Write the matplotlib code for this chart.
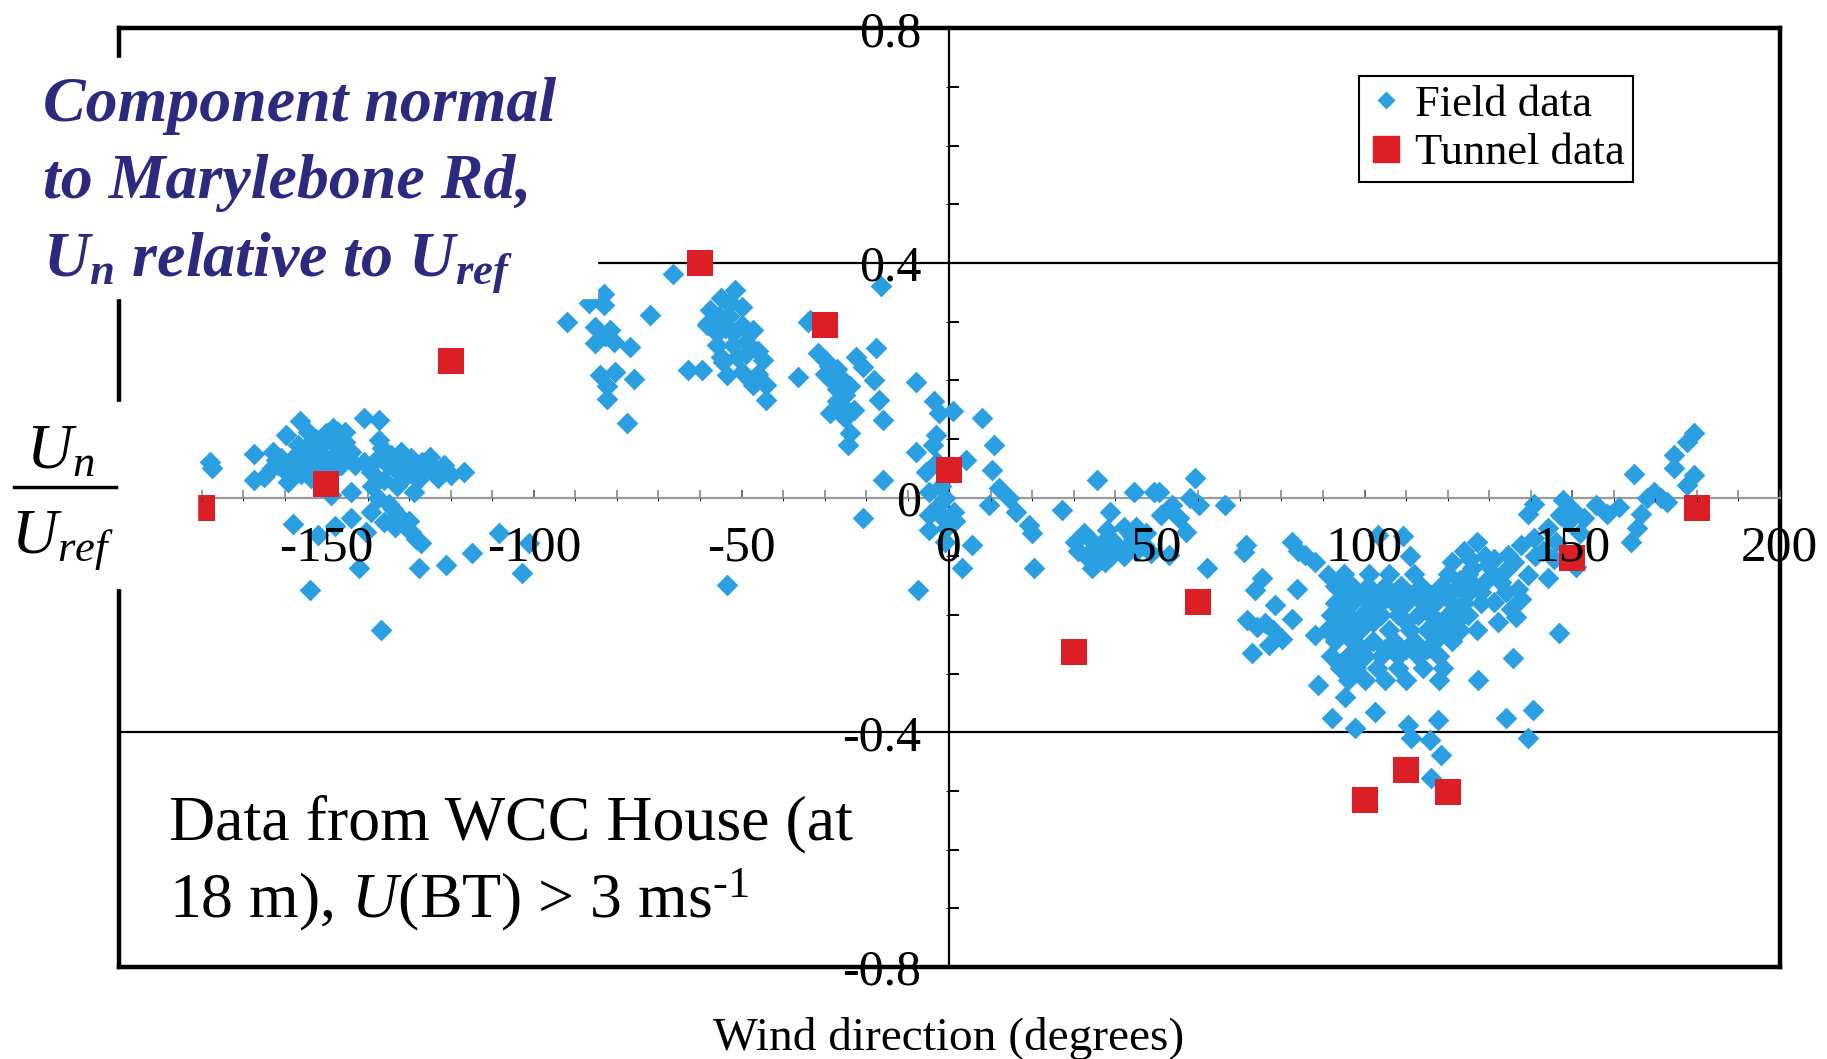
import numpy as np
import matplotlib
matplotlib.use('Agg')
import matplotlib.pyplot as plt
from matplotlib.lines import Line2D
from matplotlib.patches import Rectangle

plt.rcParams['font.family'] = ['Liberation Serif', 'DejaVu Serif']
plt.rcParams['mathtext.fontset'] = 'custom'
plt.rcParams['mathtext.rm'] = 'Liberation Serif'
plt.rcParams['mathtext.it'] = 'Liberation Serif:italic'
plt.rcParams['mathtext.bf'] = 'Liberation Serif:bold:italic'

# Wind tunnel measurements (direction in degrees, Un/Uref)
tunnel_dir = [-180, -150, -120, -60, -30, 0, 30, 60, 100, 110, 120, 150, 180]
tunnel_val = [-0.018, 0.024, 0.233, 0.40, 0.295, 0.048, -0.263, -0.178,
              -0.516, -0.464, -0.502, -0.103, -0.018]

# Field data
field_west = [
    (-178, 0.06), (-177.5, 0.05), (-167.5, 0.074), (-167.5, 0.030), (-165, 0.036),
    (-162.8, 0.078), (-159.6, 0.107), (-156.4, 0.13), (-154.4, 0.112),
    (-161.6, 0.056), (-158.4, 0.044), (-155.2, 0.061), (-152, 0.078), (-149.6, 0.101),
    (-147.2, 0.112), (-145.6, 0.095), (-148.8, 0.067), (-153.6, 0.033), (-159.2, 0.027),
    (-156.8, 0.090), (-144, 0.078), (-146.4, 0.056), (-150.4, 0.050), (-160.8, 0.067),
    (-163, 0.05), (-157, 0.075), (-151, 0.09), (-154, 0.05), (-149, 0.04), (-162, 0.065),
    (-143, 0.055), (-148.4, 0.118), (-145.6, 0.112), (-140.8, 0.135), (-137.2, 0.132),
    (-137.4, 0.098), (-144, 0.01), (-148.8, 0.005),
    (-158, 0.06), (-155, 0.085), (-152.5, 0.1), (-150, 0.11), (-153, 0.065),
    (-147, 0.085), (-145, 0.07), (-160, 0.045), (-156, 0.04), (-151.5, 0.06),
    (-139.2, 0.044), (-135.2, 0.056), (-132, 0.078), (-131.2, 0.033), (-128.8, 0.01),
    (-126.4, 0.044), (-123.2, 0.033), (-121.6, 0.056), (-120, 0.039), (-116.8, 0.044),
    (-129.6, 0.067), (-134.4, 0.072), (-133, 0.02), (-136, 0.03), (-138, 0.065),
    (-130, 0.05), (-127, 0.06), (-124, 0.05), (-141, 0.06), (-139, 0.02),
    (-133, 0.045), (-136.5, 0.085), (-131, 0.06), (-128, 0.03), (-125, 0.07),
    (-158, -0.044), (-152, -0.064), (-148, -0.049), (-144, -0.035), (-140.4, -0.058),
    (-142, -0.12), (-139.2, -0.024), (-136, -0.041), (-137.6, -0.001), (-132.8, -0.03),
    (-131.2, -0.047), (-129.6, -0.058), (-127.2, -0.078), (-127.6, -0.12), (-121.2, -0.115),
    (-114.8, -0.095), (-154, -0.157), (-136.8, -0.226), (-134, -0.02), (-130, -0.04),
    (-135, -0.01), (-133.5, -0.05), (-128.5, -0.07),
    (-108.3, -0.061), (-102.8, -0.129), (-101.2, -0.078),
]
field_mid = [
    (-92, 0.30), (-86.8, 0.331), (-83.2, 0.348), (-83.2, 0.328), (-85.2, 0.291),
    (-85.2, 0.263), (-81.6, 0.286), (-80.8, 0.266), (-76.8, 0.257), (-72, 0.311),
    (-84, 0.209), (-80.4, 0.215), (-76, 0.203), (-82.4, 0.169), (-77.6, 0.127),
    (-66.4, 0.382), (-84, 0.34), (-82.5, 0.19), (-83, 0.275),
    (-62.8, 0.218), (-59.6, 0.218), (-57.6, 0.32), (-51.6, 0.354), (-52.8, 0.334),
    (-50, 0.325), (-55.5, 0.31), (-53, 0.31), (-58, 0.297), (-56, 0.28), (-54, 0.29),
    (-50, 0.295), (-47.2, 0.286), (-56, 0.26), (-52, 0.26), (-49, 0.265), (-55, 0.24),
    (-51, 0.24), (-46, 0.25), (-44.8, 0.235), (-54.4, 0.232), (-53.6, 0.209), (-50, 0.215),
    (-48, 0.2), (-47.2, 0.192), (-44, 0.192), (-44, 0.166), (-58.4, 0.294), (-55, 0.34),
    (-53, 0.33), (-52, 0.28), (-49, 0.245), (-46, 0.21), (-53.6, -0.149),
    (-36.4, 0.206), (-34, 0.3), (-31.6, 0.246), (-30, 0.235), (-29, 0.225), (-27, 0.22),
    (-25.5, 0.2), (-24, 0.19), (-30, 0.21), (-28.5, 0.2), (-27, 0.185), (-25, 0.175),
    (-28.8, 0.144), (-27, 0.165), (-24, 0.11), (-24.4, 0.09), (-22.4, 0.24), (-20.8, 0.223),
    (-17.6, 0.255), (-18, 0.2), (-16.8, 0.167), (-16, 0.132), (-16, 0.03), (-20.8, -0.035),
    (-16.4, 0.36), (-33.6, 0.303), (-26, 0.16), (-23, 0.15), (-25, 0.135),
    (-8, 0.198), (-3.6, 0.164), (-2.4, 0.144), (0.8, 0.147), (8, 0.135), (10.8, 0.09),
    (10.4, 0.047), (-8, 0.078), (-3.2, 0.107), (-4, 0.09), (-5.6, 0.044), (-3, 0.06),
    (4, 0.064), (-4.8, 0.01), (-2.4, -0.0125), (1.2, -0.024), (-4.8, -0.03), (-4.8, -0.055),
    (-0.8, -0.052), (-1, -0.075), (5.6, -0.081), (3.2, -0.12), (-7.6, -0.157), (12, 0.016),
    (9.6, -0.0125), (14.4, -0.001), (16, -0.024), (19.2, -0.047), (20, -0.06), (20.4, -0.12),
    (-2, 0.02), (-1, 0.0), (-1.5, -0.035), (1.5, -0.04),
]
field_east = [
    (27.2, -0.021), (35.6, 0.03), (38.8, -0.024), (44.4, 0.01), (49.2, 0.01),
    (30.4, -0.075), (32.5, -0.06), (35, -0.085), (34.4, -0.12), (37, -0.075), (39, -0.07),
    (41, -0.085), (43, -0.08), (45, -0.09), (47, -0.08), (48.5, -0.095), (42, -0.05),
    (45, -0.05), (47.5, -0.06), (33, -0.1), (36, -0.1), (39, -0.1), (42, -0.1), (31, -0.09),
    (38, -0.055), (34, -0.07), (40, -0.09), (44, -0.065), (37.5, -0.11),
    (59.3, 0.033), (53.7, -0.0125), (55.3, -0.035), (56.9, -0.058), (60.1, -0.0125),
    (66.5, -0.0125), (52.9, -0.098), (62.1, -0.12), (50.5, 0.01), (58, 0.0), (51, -0.03),
    (70.9, -0.092), (82.5, -0.075), (85.7, -0.098), (88.1, -0.109), (75.3, -0.1375),
    (73.7, -0.157), (78.5, -0.183), (83.7, -0.155), (71.7, -0.209), (76.1, -0.214),
    (82.5, -0.206), (72.9, -0.265), (76.9, -0.251), (80.1, -0.24), (88.1, -0.234),
    (71.5, -0.08), (84, -0.09), (74, -0.22), (78, -0.225),
]
field_trough = [
    (103.3, -0.064), (109.3, -0.066), (110.9, -0.1), (91.3, -0.132), (127.3, -0.31),
    (92.1, -0.376), (97.7, -0.393), (102.5, -0.365), (110.5, -0.387), (111.3, -0.41),
    (117.7, -0.379), (115.7, -0.413), (118.5, -0.439), (116.1, -0.478), (88.9, -0.319),
    (95.3, -0.34),
    (95, -0.13), (101, -0.13), (106, -0.13), (112, -0.13), (120, -0.13), (125, -0.13),
    (92.9, -0.15), (96.9, -0.15), (100.9, -0.15), (104.9, -0.15), (108.9, -0.15),
    (113.7, -0.15), (118.5, -0.15), (122.5, -0.15), (126.5, -0.15),
    (95, -0.165), (99, -0.165), (103, -0.165), (107, -0.165), (111, -0.165), (116, -0.165),
    (120, -0.165), (124.5, -0.165),
    (93, -0.18), (97, -0.18), (101, -0.18), (104, -0.18), (107, -0.18), (110, -0.18),
    (114, -0.18), (117, -0.18), (121, -0.18), (124, -0.18), (128, -0.18),
    (94.5, -0.19), (102.5, -0.19), (108.5, -0.19), (115.5, -0.19), (122.5, -0.19),
    (92, -0.20), (96, -0.20), (99.5, -0.20), (104, -0.20), (108, -0.20), (113, -0.20),
    (116, -0.20), (120, -0.20), (125, -0.20),
    (94, -0.212), (98, -0.212), (102, -0.212), (110, -0.212), (118, -0.212), (122, -0.212),
    (91, -0.225), (95, -0.225), (99, -0.225), (106, -0.225), (111, -0.225), (115, -0.225),
    (119, -0.225), (123, -0.225), (127, -0.225),
    (93, -0.245), (97, -0.245), (102, -0.245), (107, -0.245), (112, -0.245), (117, -0.245),
    (121, -0.245), (99.5, -0.258), (105, -0.258), (110, -0.258), (115, -0.258),
    (92, -0.27), (96, -0.27), (100, -0.27), (104, -0.27), (108, -0.27), (113, -0.27),
    (118, -0.27),
    (94, -0.29), (98, -0.29), (103, -0.29), (108, -0.29), (114, -0.29), (119, -0.29),
    (96, -0.31), (100, -0.31), (105, -0.31), (110, -0.31), (118, -0.31),
    (121, -0.11), (124, -0.09), (126, -0.12), (129, -0.1), (127, -0.075), (129.5, -0.14),
    (123, -0.14), (128, -0.16), (125.5, -0.105),
]
field_north = [
    (179.3, 0.11), (177.7, 0.095), (174.5, 0.073), (174.5, 0.05), (179.3, 0.039),
    (177.7, 0.022), (164.9, 0.041), (169.7, 0.01), (172.9, -0.007), (171.5, 0.0),
    (166.5, -0.027), (165.7, -0.052), (164.1, -0.075), (161.3, -0.015), (158.5, -0.027),
    (155.7, -0.0125), (152.9, -0.035), (147.7, -0.004), (147, -0.03), (148.9, -0.041),
    (140.9, -0.01), (139.3, -0.027), (144.1, -0.052), (140.9, -0.069), (137.7, -0.081),
    (134.5, -0.098), (131.3, -0.104), (133.7, -0.127), (129.7, -0.115), (145.7, -0.104),
    (144.1, -0.137), (150.9, -0.118), (139.3, -0.132), (136.9, -0.155), (132.9, -0.144),
    (137.7, -0.172), (131.3, -0.178), (135.3, -0.189), (136.5, -0.203), (132.1, -0.211),
    (146.9, -0.231), (135.7, -0.274), (134.1, -0.376), (140.5, -0.362), (139.3, -0.41),
    (150, -0.02), (152, -0.06), (143, -0.09), (168, 0.0),
    (136, -0.11), (141, -0.1), (146, -0.075), (131, -0.13), (134, -0.16),
]
field = np.array(field_west + field_mid + field_east + field_trough + field_north)
field_dir, field_val = field[:, 0], field[:, 1]

gridline_vals = [-0.4, 0.4]
x_major = [-150, -100, -50, 0, 50, 100, 150, 200]
y_major = [-0.8, -0.4, 0, 0.4, 0.8]

W, H = 1827, 1059
fig = plt.figure(figsize=(W / 100, H / 100), dpi=100)


def fx(px):
    return px / W


def fy(py):
    return 1 - py / H


pos = [fx(118.6), fy(967.1), fx(1779.8) - fx(118.6), fy(28.3) - fy(967.1)]

# heavy outer frame
frame = fig.add_axes(pos, zorder=0)
frame.set_xticks([])
frame.set_yticks([])
for s in frame.spines.values():
    s.set_linewidth(3.2)
    s.set_color('black')

# data axes with the cross-shaped axes through zero
ax = fig.add_axes(pos, zorder=1)
ax.patch.set_visible(False)
ax.set_xlim(-200, 200)
ax.set_ylim(-0.8, 0.8)
ax.spines['top'].set_visible(False)
ax.spines['right'].set_visible(False)
ax.spines['left'].set_position(('data', 0))
ax.spines['bottom'].set_position(('data', 0))
ax.spines['left'].set_linewidth(1.6)
ax.spines['bottom'].set_color('#9a9a9a')
ax.spines['bottom'].set_linewidth(1.6)
ax.set_xticks(x_major)
ax.set_xticks(np.arange(-190, 200, 10), minor=True)
ax.set_yticks(y_major)
ax.set_yticks(np.arange(-0.8, 0.81, 0.1), minor=True)
ax.tick_params(axis='x', which='both', direction='in', length=6, width=1.2,
               color='#8a8a8a', labelbottom=False)
ax.tick_params(axis='x', which='major', color='#555555')
ax.tick_params(axis='y', which='both', direction='in', length=7, width=1.4,
               color='black', labelleft=False)
ax.set_axisbelow(True)
for g in gridline_vals:
    ax.axhline(g, color='black', lw=1.6, zorder=0.5)

ax.scatter(field_dir, field_val, marker='D', s=122, color='#2A9FE2',
           linewidths=0, zorder=3)
ax.scatter(tunnel_dir, tunnel_val, marker='s', s=350, color='#DC1F26',
           linewidths=0, zorder=4)

# tick labels sit on top of the markers
lab = fig.add_axes(pos, zorder=2, sharex=ax, sharey=ax)
lab.patch.set_visible(False)
for k, s in lab.spines.items():
    s.set_visible(False)
lab.spines['left'].set_position(('data', 0))
lab.spines['bottom'].set_position(('data', 0))
lab.set_xticks(x_major)
lab.set_yticks(y_major)
lab.set_xticklabels([f'{v:g}' for v in x_major])
lab.set_yticklabels([f'{v:g}' for v in y_major])
lab.tick_params(axis='x', length=0, pad=20, labelsize=37)
lab.tick_params(axis='y', length=0, pad=20, labelsize=36)

leg_handles = [
    Line2D([], [], ls='none', marker='D', ms=8, color='#2A9FE2', label='Field data'),
    Line2D([], [], ls='none', marker='s', ms=19, color='#DC1F26', label='Tunnel data'),
]
leg = lab.legend(handles=leg_handles, loc='upper left',
                 bbox_to_anchor=(fx(1359), fy(76)), bbox_transform=fig.transFigure,
                 borderaxespad=0, fontsize=32, frameon=True, fancybox=False,
                 edgecolor='black', framealpha=1, handlelength=0.8,
                 handletextpad=0.25, labelspacing=0.18, borderpad=0.2)
leg.get_frame().set_linewidth(1.5)

# white text boxes that overlay the frame, as in the slide
fig.add_artist(Rectangle((0, fy(298)), fx(597), fy(58) - fy(298),
                         transform=fig.transFigure, color='white', zorder=5))
fig.add_artist(Rectangle((0, fy(588)), fx(197), fy(402) - fy(588),
                         transform=fig.transFigure, color='white', zorder=5))

navy = '#2B2A7E'
title_lines = ['Component normal', 'to Marylebone Rd,',
               r'$\mathbf{U}_\mathbf{n}$ relative to $\mathbf{U}_\mathbf{ref}$']
for i, line in enumerate(title_lines):
    fig.text(fx(43), fy(121 + 77 * i), line, fontsize=46, color=navy,
             fontweight='bold', fontstyle='italic', va='baseline', ha='left', zorder=6)

fig.text(fx(60), fy(468), r'$U_n$', fontsize=46, ha='center', va='baseline', zorder=6)
fig.add_artist(Line2D([fx(14), fx(116)], [fy(487), fy(487)], color='black', lw=2.5,
                      transform=fig.transFigure, zorder=6))
fig.text(fx(62), fy(552), r'$U_{ref}$', fontsize=46, ha='center', va='baseline', zorder=6)

fig.text(fx(169), fy(839), 'Data from WCC House (at', fontsize=46, ha='left',
         va='baseline', zorder=6)
fig.text(fx(169), fy(917), r'18 m), $U$(BT) > 3 ms$^{\text{-1}}$', fontsize=46,
         ha='left', va='baseline', zorder=6)

fig.text(fx(949), fy(1038), 'Wind direction (degrees)', fontsize=34, ha='center',
         va='center', zorder=6)

fig.savefig('out.png', dpi=100)
